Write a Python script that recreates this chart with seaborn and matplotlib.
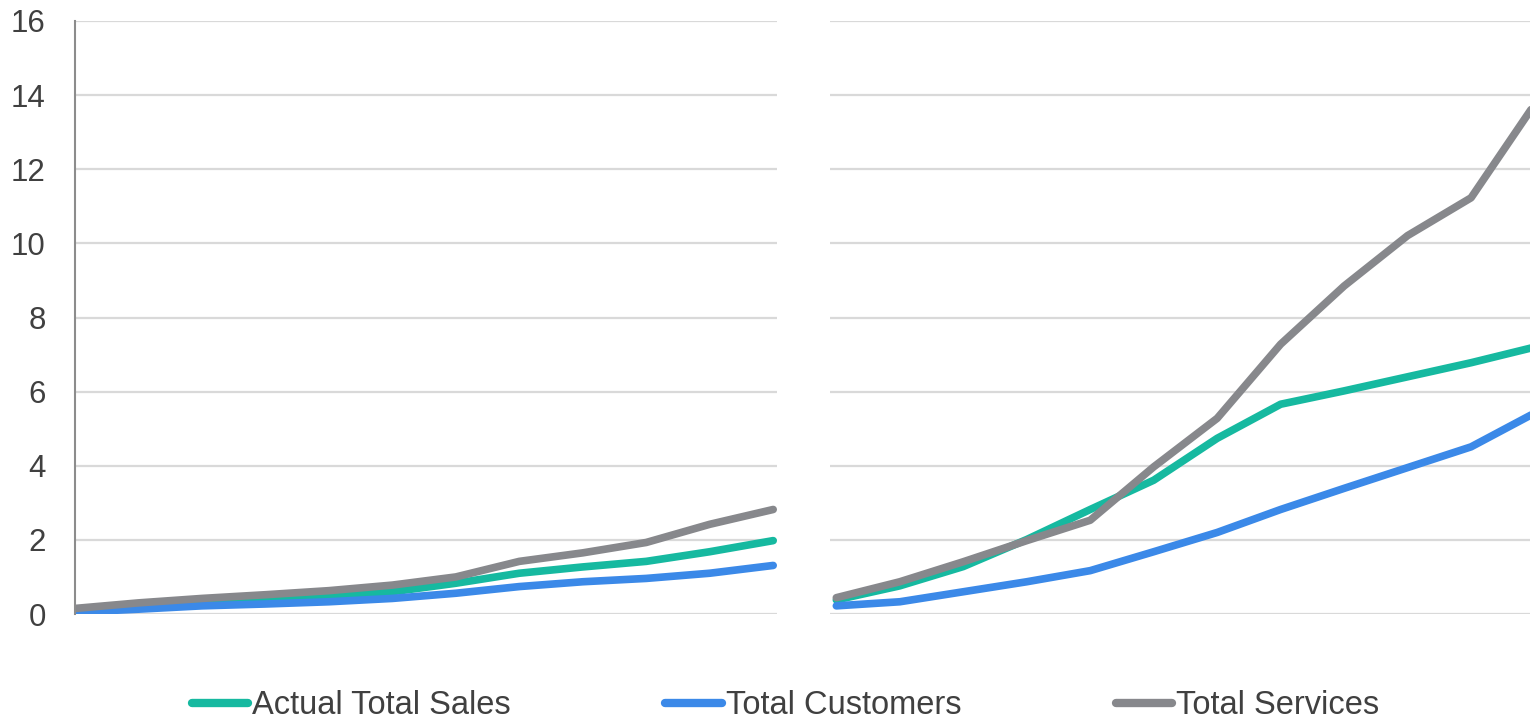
import numpy as np
import pandas as pd
import matplotlib
matplotlib.use("Agg")
import matplotlib.pyplot as plt
import seaborn as sns

# ---- data ----
series_names = ["Actual Total Sales", "Total Customers", "Total Services"]
points = list(range(12))

sales_left = [0.10, 0.20, 0.30, 0.38, 0.47, 0.60, 0.83, 1.10, 1.27, 1.42, 1.68, 1.98]
customers_left = [0.05, 0.13, 0.22, 0.27, 0.33, 0.42, 0.56, 0.74, 0.87, 0.96, 1.10, 1.31]
services_left = [0.15, 0.30, 0.42, 0.52, 0.63, 0.78, 1.00, 1.42, 1.65, 1.93, 2.42, 2.82]

sales_right = [0.38, 0.76, 1.28, 2.01, 2.82, 3.61, 4.74, 5.66, 6.02, 6.40, 6.78, 7.20]
customers_right = [0.22, 0.33, 0.60, 0.87, 1.17, 1.68, 2.20, 2.82, 3.39, 3.95, 4.51, 5.42]
services_right = [0.44, 0.87, 1.41, 1.98, 2.53, 3.97, 5.28, 7.28, 8.85, 10.21, 11.23, 13.75]

y_ticks = [0, 2, 4, 6, 8, 10, 12, 14, 16]

colors = ["#16B9A0", "#3B89E8", "#87888C"]


def long_df(s, c, v):
    return pd.DataFrame({
        "x": points * 3,
        "value": s + c + v,
        "series": [series_names[0]] * 12 + [series_names[1]] * 12 + [series_names[2]] * 12,
    })


df_left = long_df(sales_left, customers_left, services_left)
df_right = long_df(sales_right, customers_right, services_right)

sns.set_theme(style="white")
plt.rcParams["font.family"] = ["Liberation Sans", "DejaVu Sans"]

W, H = 1530, 721
fig = plt.figure(figsize=(W / 100, H / 100), dpi=100)

bottom = (H - 614) / H
height = (614 - 21) / H
ax1 = fig.add_axes([75 / W, bottom, 702 / W, height])
ax2 = fig.add_axes([830 / W, bottom, 702 / W, height])

palette = dict(zip(series_names, colors))
for ax, df, xlim in [(ax1, df_left, (0, 11.06)), (ax2, df_right, (-0.1, 10.96))]:
    sns.lineplot(data=df, x="x", y="value", hue="series", hue_order=series_names,
                 palette=palette, linewidth=5.5, ax=ax, legend=False,
                 solid_capstyle="round", clip_on=True)
    ax.set_xlim(*xlim)
    ax.set_ylim(0, 16)
    ax.set_yticks(y_ticks)
    ax.set_xticks([])
    ax.set_xlabel("")
    ax.set_ylabel("")
    ax.grid(axis="y", color="#D9D9D9", linewidth=1.6)
    ax.set_axisbelow(True)
    for sp in ax.spines.values():
        sp.set_visible(False)
    ax.set_facecolor("white")

ax1.spines["left"].set_visible(True)
ax1.spines["left"].set_color("#8C8C8C")
ax1.spines["left"].set_linewidth(1.5)
ax1.tick_params(axis="y", length=0, pad=21, labelsize=22.5, labelcolor="#404040")
ax1.set_yticklabels([str(t) for t in y_ticks])
ax2.tick_params(axis="y", length=0, labelleft=False)

handles = [plt.Line2D([0], [0], color=c, linewidth=6, solid_capstyle="round") for c in colors]
fig.legend(handles, series_names, loc="center", bbox_to_anchor=(785.5 / W, 1 - 706 / H),
           ncol=3, frameon=False, fontsize=23.5, handlelength=1.72, handletextpad=0.12,
           columnspacing=4.75, labelcolor="#404040", borderaxespad=0, borderpad=0)

fig.savefig("out.png", dpi=100, facecolor="white")
